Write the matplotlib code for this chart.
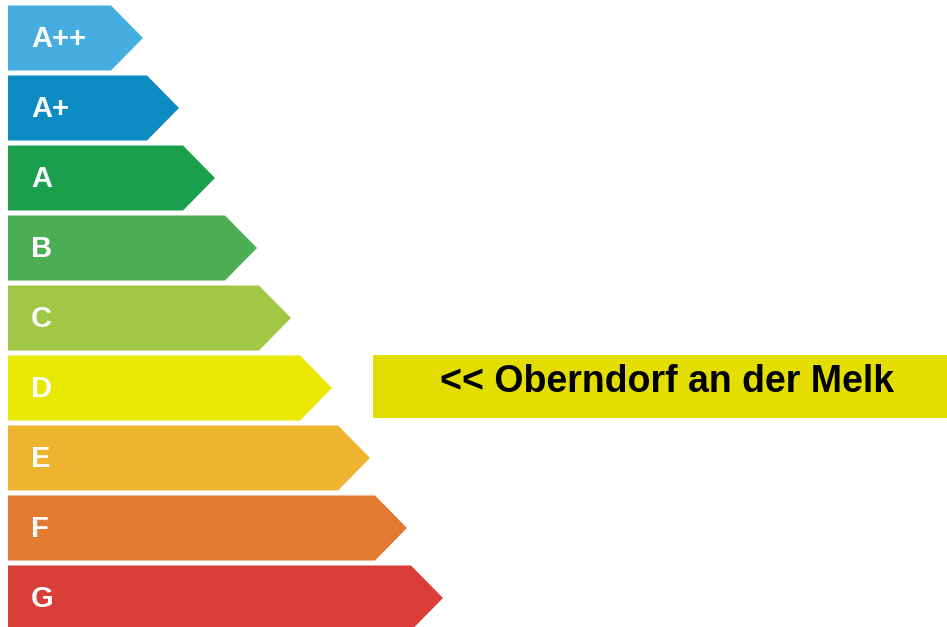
import matplotlib.pyplot as plt
from matplotlib.patches import Polygon, Rectangle

# energy classes, arrow length (to the tip) and colours
classes = ['A++', 'A+', 'A', 'B', 'C', 'D', 'E', 'F', 'G']
lengths = [143, 179, 215, 257, 291, 332, 370, 407, 443]
colors = ['#46ade0', '#0b8bc2', '#1a9f4c', '#4cae54', '#a0c844',
          '#e9e800', '#eeb42f', '#e27a31', '#da3d38']

town = 'Oberndorf an der Melk'
town_class = 'D'
town_color = '#e3de00'

plt.rcParams['font.family'] = ['Liberation Sans', 'DejaVu Sans']

fig = plt.figure(figsize=(9.47, 6.27), dpi=100)
ax = fig.add_axes([0, 0, 1, 1])
ax.set_xlim(0, 947)
ax.set_ylim(627, 0)
ax.axis('off')

x0 = 8
top0 = 5.5
pitch = 70
h = 65
tip = 32

for i, (c, L, col) in enumerate(zip(classes, lengths, colors)):
    y = top0 + i * pitch
    pts = [(x0, y), (L - tip, y), (L, y + h / 2), (L - tip, y + h), (x0, y + h)]
    ax.add_patch(Polygon(pts, closed=True, facecolor=col, edgecolor='none'))
    ax.text(x0 + 23, y + h / 2 + 1, c, color='white', fontsize=21,
            fontweight='bold', va='center', ha='left')

# marker for the town
k = classes.index(town_class)
y = top0 + k * pitch
ax.add_patch(Rectangle((373, y - 1), 947 - 373, 63, facecolor=town_color, edgecolor='none'))
ax.text(667, y + 26, '<< ' + town, color='black', fontsize=27,
        fontweight='bold', va='center', ha='center')

plt.savefig('out.png', dpi=100)
